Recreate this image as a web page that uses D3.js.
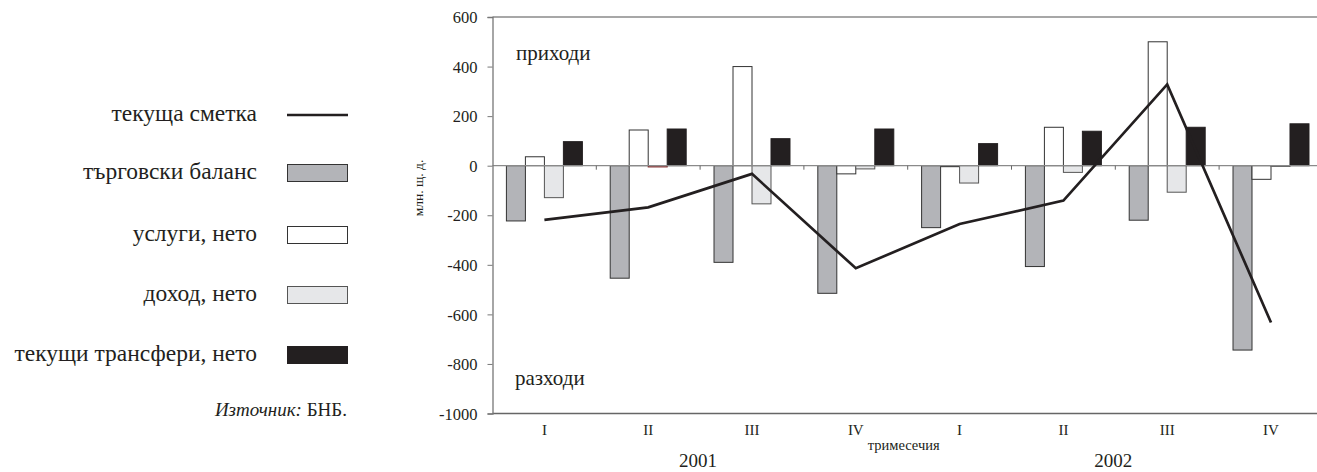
<!DOCTYPE html>
<html><head><meta charset="utf-8">
<script src="https://cdn.jsdelivr.net/npm/d3@7"></script>
<style>
html,body{margin:0;padding:0;background:#fff;}
svg{display:block;font-family:"Liberation Serif","DejaVu Serif",serif;}
</style></head>
<body><svg id="chart" width="1317" height="472"></svg>
<script>
const quarters = ["I","II","III","IV","I","II","III","IV"];
const years = ["2001","2002"];
const currentAccount = [-219,-168,-33,-414,-235,-141,328,-633];
const tradeBalance = [-223,-454,-390,-515,-250,-407,-220,-744];
const servicesNet = [36,144,400,-33,-4,155,500,-55];
const incomeNet = [-129,-5,-154,-13,-70,-27,-107,-3];
const transfersNet = [97,148,109,148,89,139,155,169];
const yTicks = [600,400,200,0,-200,-400,-600,-800,-1000];

const seriesNames = ["текуща сметка","търговски баланс","услуги, нето","доход, нето","текущи трансфери, нето"];
const barSeries = [
  {name:"търговски баланс", values:tradeBalance, fill:"#b3b4b8", stroke:"#333"},
  {name:"услуги, нето", values:servicesNet, fill:"#ffffff", stroke:"#333"},
  {name:"доход, нето", values:incomeNet, fill:"#e6e7e9", stroke:"#555"},
  {name:"текущи трансфери, нето", values:transfersNet, fill:"#231f20", stroke:"#231f20"}
];

const FONT = "Liberation Serif";
const svg = d3.select("#chart");
const pLeft = 492.5, pTop = 17, pBottom = 413.5;
const catW = 103.8;
const idx = d3.range(quarters.length);
const x = d3.scaleBand().domain(idx).range([pLeft, pLeft + catW*quarters.length]).paddingInner(0.268).paddingOuter(0.134);
const xg = d3.scaleBand().domain(idx).range([pLeft, pLeft + catW*quarters.length]);
const xs = d3.scaleBand().domain(d3.range(4)).range([0, x.bandwidth()]);
const y = d3.scaleLinear().domain([-1000,600]).range([pBottom, pTop]);

// frame: top line
svg.append("line").attr("x1",pLeft).attr("x2",1317).attr("y1",pTop).attr("y2",pTop)
  .attr("stroke","#8a8a8a").attr("stroke-width",1.3);

// bars
barSeries.forEach((s,si)=>{
  svg.append("g").selectAll("rect").data(s.values).join("rect")
    .attr("x",(d,i)=>x(i)+xs(si))
    .attr("width",xs.bandwidth())
    .attr("y",d=>y(Math.max(0,d)))
    .attr("height",d=>Math.abs(y(d)-y(0)))
    .attr("fill",s.fill)
    .attr("stroke",(d,i)=> (si===2 && i===1) ? "#7a1a1a" : s.stroke)
    .attr("stroke-width",1);
});

// zero line
svg.append("line").attr("x1",pLeft).attr("x2",1317).attr("y1",y(0)).attr("y2",y(0))
  .attr("stroke","#8a8a8a").attr("stroke-width",1.3);
// x ticks at category boundaries
svg.append("g").selectAll("line").data(idx.slice(1)).join("line")
  .attr("x1",d=>xg(d)).attr("x2",d=>xg(d)).attr("y1",y(0)).attr("y2",y(0)+4)
  .attr("stroke","#666").attr("stroke-width",1);

// bottom axis line
svg.append("line").attr("x1",pLeft).attr("x2",1317).attr("y1",pBottom).attr("y2",pBottom)
  .attr("stroke","#666").attr("stroke-width",1.3);

// y axis
const yAxis = d3.axisLeft(y).tickValues(yTicks).tickSize(5).tickPadding(10).tickFormat(d3.format("d"));
const ya = svg.append("g").attr("transform",`translate(${pLeft},0)`).call(yAxis);
ya.attr("font-family",FONT);
ya.select(".domain").attr("stroke","#777").attr("stroke-width",1.3);
ya.selectAll(".tick line").attr("stroke","#777");
ya.selectAll(".tick text").attr("font-family",FONT).attr("font-size",16.5).attr("fill","#231f20")
  .attr("dy","0.34em")
  .text(d=> d<0 ? "-"+Math.abs(d) : d);

// current account line
const line = d3.line().x((d,i)=>xg(i)+xg.bandwidth()/2).y(d=>y(d));
svg.append("path").datum(currentAccount).attr("d",line)
  .attr("fill","none").attr("stroke","#231f20").attr("stroke-width",2.7).attr("stroke-linejoin","miter");

// x labels
svg.append("g").selectAll("text").data(quarters).join("text")
  .attr("x",(d,i)=>xg(i)+xg.bandwidth()/2).attr("y",435)
  .attr("text-anchor","middle").attr("font-family",FONT).attr("font-size",15).attr("fill","#231f20").text(d=>d);
svg.append("text").attr("x",xg(4)-4).attr("y",450).attr("text-anchor","middle")
  .attr("font-family",FONT).attr("font-size",14.5).attr("fill","#231f20").text("тримесечия");
years.forEach((yr,k)=>{
  svg.append("text").attr("x",xg(2+4*k)-2).attr("y",467).attr("text-anchor","middle")
    .attr("font-family",FONT).attr("font-size",19).attr("fill","#231f20").text(yr);
});

// y title
svg.append("text").attr("transform","translate(423,188) rotate(-90)").attr("text-anchor","middle")
  .attr("font-family",FONT).attr("font-size",13.5).attr("fill","#231f20").text("млн. щ. д.");

// annotations
svg.append("text").attr("x",516).attr("y",60).attr("font-family",FONT).attr("font-size",21).attr("fill","#231f20").text("приходи");
svg.append("text").attr("x",515).attr("y",385).attr("font-family",FONT).attr("font-size",21).attr("fill","#231f20").text("разходи");

// legend
const legY = [115,173,235,295,355];
const lg = svg.append("g");
seriesNames.forEach((n,i)=>{
  lg.append("text").attr("x",257).attr("y",legY[i]+6).attr("text-anchor","end")
    .attr("font-family",FONT).attr("font-size",23.5).attr("fill","#231f20").text(n);
  if(i===0){
    lg.append("line").attr("x1",287).attr("x2",348).attr("y1",legY[i]).attr("y2",legY[i])
      .attr("stroke","#231f20").attr("stroke-width",2.4);
  } else {
    const s = barSeries[i-1];
    lg.append("rect").attr("x",287.5).attr("y",legY[i]-8.5).attr("width",60).attr("height",17)
      .attr("fill",s.fill).attr("stroke",s.stroke).attr("stroke-width",1);
  }
});
const src = lg.append("text").attr("x",347).attr("y",416).attr("text-anchor","end")
  .attr("font-family",FONT).attr("font-size",19).attr("fill","#231f20");
src.append("tspan").attr("font-style","italic").text("Източник: ");
src.append("tspan").text("БНБ.");
</script></body></html>
